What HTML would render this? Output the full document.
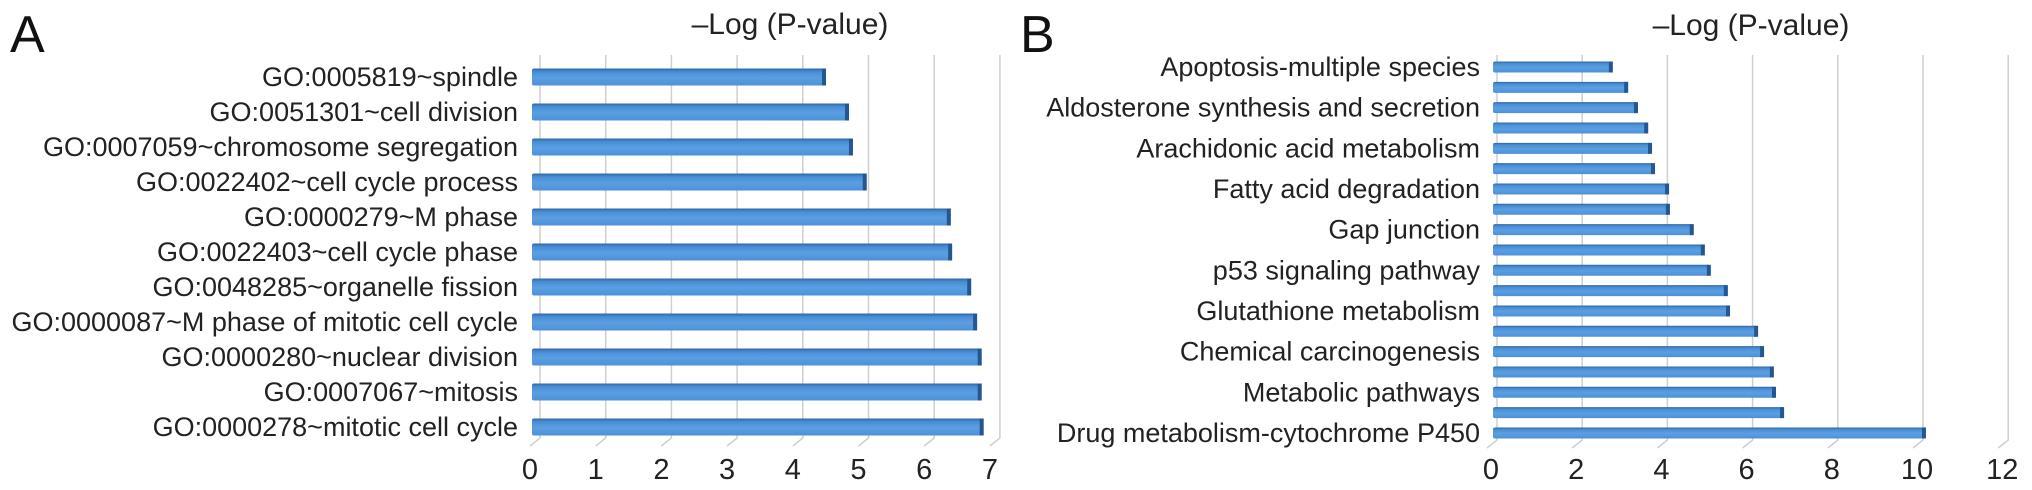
<!DOCTYPE html>
<html><head><meta charset="utf-8"><style>
html,body{margin:0;padding:0;background:#fff;}
svg{display:block;font-family:"Liberation Sans",Arial,sans-serif;}
</style></head><body>
<svg id="chart" width="2032" height="490" viewBox="0 0 2032 490" xmlns="http://www.w3.org/2000/svg">
<defs>
<linearGradient id="barg" x1="0" y1="0" x2="0" y2="1">
<stop offset="0" stop-color="#2f66a3"/><stop offset="0.2" stop-color="#4a8ed6"/><stop offset="0.55" stop-color="#5a9fe2"/><stop offset="1" stop-color="#4d90d8"/>
</linearGradient>
</defs>
<text x="10" y="52" font-size="52" fill="#111">A</text>
<text x="1020" y="52" font-size="52" fill="#111">B</text>
<text x="790" y="34" font-size="30" fill="#222" text-anchor="middle">–Log (P-value)</text>
<text x="1751" y="35" font-size="30" fill="#222" text-anchor="middle">–Log (P-value)</text>
<g id="pa"></g>
<g id="pb"></g>
</svg>
<script>
const catsA = ["GO:0005819~spindle","GO:0051301~cell division","GO:0007059~chromosome segregation","GO:0022402~cell cycle process","GO:0000279~M phase","GO:0022403~cell cycle phase","GO:0048285~organelle fission","GO:0000087~M phase of mitotic cell cycle","GO:0000280~nuclear division","GO:0007067~mitosis","GO:0000278~mitotic cell cycle"];
const valsA = [4.46,4.81,4.87,5.08,6.36,6.38,6.67,6.76,6.83,6.83,6.86];
const ticksA = [0,1,2,3,4,5,6,7];
const catsB = ["Apoptosis-multiple species","","Aldosterone synthesis and secretion","","Arachidonic acid metabolism","","Fatty acid degradation","","Gap junction","","p53 signaling pathway","","Glutathione metabolism","","Chemical carcinogenesis","","Metabolic pathways","","Drug metabolism-cytochrome P450"];
const valsB = [2.79,3.15,3.38,3.62,3.71,3.78,4.11,4.13,4.69,4.95,5.09,5.49,5.54,6.2,6.34,6.57,6.62,6.81,10.14];
const ticksB = [0,2,4,6,8,10,12];
const NS="http://www.w3.org/2000/svg";
function mk(parent,tag,attrs){const e=document.createElementNS(NS,tag);for(const k in attrs)e.setAttribute(k,attrs[k]);parent.appendChild(e);return e;}
function panel(g,cats,vals,ticks,cfg,prefix){
  const xBar=v=>cfg.x0+v*cfg.unit;
  const xGrid=v=>cfg.g0+v*cfg.unit;
  const yAt=i=>cfg.y0+i*cfg.step;
  ticks.forEach(t=>{
    const l=mk(g,'path',{d:`M${xGrid(t)},${cfg.gTop} L${xGrid(t)},${cfg.gBot} L${xGrid(t)-cfg.dx},${cfg.gBot+8}`,stroke:'#cfcfcf','stroke-width':1.5,fill:'none'});
    
    
    const tx=mk(g,'text',{x:xGrid(t)+cfg.tickOff,y:cfg.tickY,'font-size':29,fill:'#222','text-anchor':'middle'});
    tx.textContent=t;
    
    
  });
  vals.forEach((v,i)=>{
    const y=yAt(i), h=cfg.bh;
    const r=mk(g,'rect',{x:cfg.x0,y:y-h/2,width:xBar(v)-cfg.x0,height:h,fill:'url(#barg)',rx:2});
    
    
    const c=mk(g,'rect',{x:xBar(v)-3,y:y-h/2,width:4,height:h,fill:'#24568f'});
    
    
    if(cats[i]){
      const t=mk(g,'text',{x:cfg.labelX,y:y+9,'font-size':cfg.fs,fill:'#222','text-anchor':'end'});
      t.textContent=cats[i];
      
      
    }
  });
}
panel(document.getElementById('pa'),catsA,valsA,ticksA,{x0:532,g0:540,unit:65.7,y0:77,step:35,bh:17,gTop:55,gBot:438,dx:10,tickOff:-10,tickY:479,labelX:518,fs:27},'go');
panel(document.getElementById('pb'),catsB,valsB,ticksB,{x0:1493,g0:1497,unit:42.6,y0:67,step:20.33,bh:11,gTop:55,gBot:440,dx:10,tickOff:-6,tickY:479,labelX:1480,fs:27},'kegg');
</script>
</body></html>
